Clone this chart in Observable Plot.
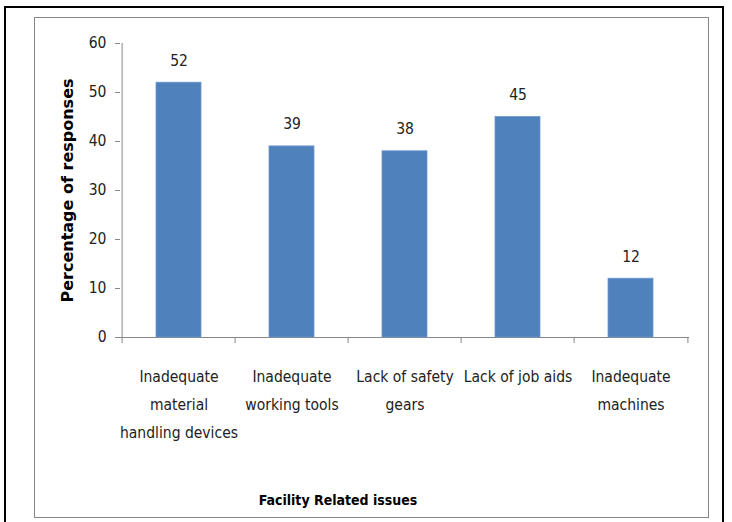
<!DOCTYPE html>
<html>
<head>
<meta charset="utf-8">
<script src="https://cdn.jsdelivr.net/npm/d3@7"></script>
<script src="https://cdn.jsdelivr.net/npm/@observablehq/plot@0.6"></script>
<style>
  html, body { margin: 0; padding: 0; background: #fff; }
  #wrap { position: relative; width: 732px; height: 522px; overflow: hidden; }
  #outer { position: absolute; left: 4px; top: 6px; width: 720px; height: 530px; border: 2px solid #000; box-sizing: border-box; }
  #inner { position: absolute; left: 34px; top: 17px; width: 675px; height: 501px; border: 1px solid #868686; box-sizing: border-box; }
  #chart { position: absolute; left: 0; top: 0; }
</style>
</head>
<body>
<div id="wrap">
  <div id="outer"></div>
  <div id="inner"></div>
  <div id="chart"></div>
</div>
<script>
const categories = [
  "Inadequate\nmaterial\nhandling devices",
  "Inadequate\nworking tools",
  "Lack of safety\ngears",
  "Lack of job aids",
  "Inadequate\nmachines"
];
const values = [52, 39, 38, 45, 12];
const yTicks = [0, 10, 20, 30, 40, 50, 60];
const yTitle = "Percentage of responses";
const xTitle = "Facility Related issues";

const data = categories.map((c, i) => ({category: c, value: values[i]}));

const W = 732, H = 522;
const mL = 120, mR = 43, mT = 43, mB = 185;
const step = (W - mL - mR) / categories.length;
const axisColor = "#868686";
const font = "'DejaVu Sans Condensed', 'Liberation Sans Narrow', sans-serif";
const last = categories[categories.length - 1];

const chart = Plot.plot({
  width: W,
  height: H,
  marginLeft: mL,
  marginRight: mR,
  marginTop: mT,
  marginBottom: mB,
  style: {fontFamily: font, fontSize: "15.5px", color: "#222", background: "transparent"},
  x: {type: "band", domain: categories, paddingInner: 0.6, paddingOuter: 0.3, label: null},
  y: {type: "linear", domain: [0, 60], label: null},
  marks: [
    // y axis line
    Plot.ruleX([categories[0]], {x: d => d, dx: -step / 2, y1: [0], y2: [60], stroke: axisColor}),
    Plot.axisY({ticks: yTicks, tickSize: 5, tickPadding: 9, stroke: axisColor, fill: "#222", fontSize: 15.5, label: null}),
    Plot.axisX({tickSize: 0, tickPadding: 25, fontSize: 15.5, lineHeight: 1.8, fill: "#222", label: null}),
    // x axis baseline
    Plot.ruleY([0], {stroke: axisColor}),
    // category boundary tick marks
    Plot.ruleX(categories, {x: d => d, dx: -step / 2, y: 0, insetBottom: -6, stroke: axisColor}),
    Plot.ruleX([last], {x: d => d, dx: step / 2, y: 0, insetBottom: -6, stroke: axisColor}),
    Plot.barY(data, {x: "category", y: "value", fill: "#4F81BD", stroke: "#6f98cc", strokeWidth: 0.8}),
    Plot.text(data, {x: "category", y: "value", text: d => String(d.value), dy: -22, lineAnchor: "middle", fontSize: 15.5, fill: "#222"}),
    Plot.text([yTitle], {frameAnchor: "left", textAnchor: "middle", dx: -53, rotate: -90, fontFamily: "'DejaVu Sans', sans-serif", fontWeight: "bold", fontSize: 16, fill: "#000"}),
    Plot.text([xTitle], {frameAnchor: "bottom", textAnchor: "middle", dy: 163, dx: -67, fontWeight: "bold", fontSize: 14, fill: "#000", lineAnchor: "middle"})
  ]
});
document.getElementById("chart").appendChild(chart);
</script>
</body>
</html>
